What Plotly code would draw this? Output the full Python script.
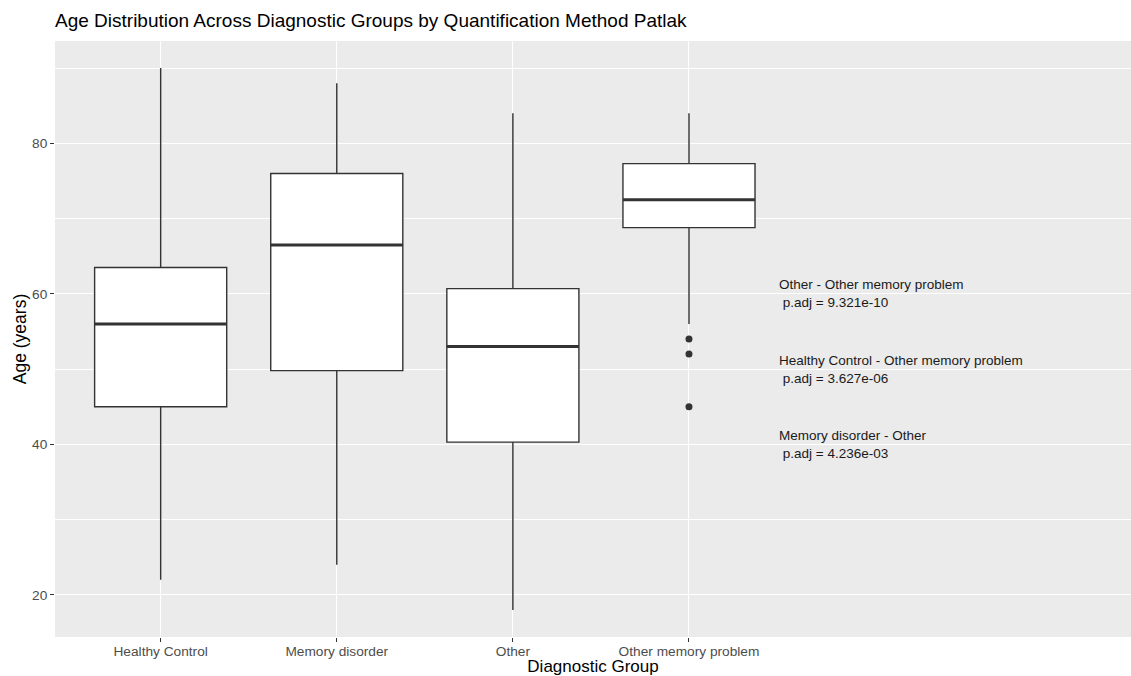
import plotly.graph_objects as go

# ---- data ----
groups = ["Healthy Control", "Memory disorder", "Other", "Other memory problem"]
lower_whisker = [22, 24, 18, 56]
q1 = [45.0, 49.8, 40.3, 68.8]
median = [56.0, 66.5, 53.0, 72.5]
q3 = [63.5, 76.0, 60.7, 77.3]
upper_whisker = [90, 88, 84, 84]
outlier_group = ["Other memory problem", "Other memory problem", "Other memory problem"]
outlier_age = [54, 52, 45]

ann_labels = ["Other - Other memory problem", "Healthy Control - Other memory problem", "Memory disorder - Other"]
ann_padj = ["9.321e-10", "3.627e-06", "4.236e-03"]
ann_y = [60, 50, 40]
ann_x = 3.5

BOX_W = 0.75
LINE = "#333333"
FONT = "Liberation Sans, Arial, sans-serif"

fig = go.Figure()
fig.add_trace(go.Box(
    x=groups, q1=q1, median=median, q3=q3,
    lowerfence=lower_whisker, upperfence=upper_whisker,
    fillcolor="white", line=dict(color=LINE, width=1.4),
    whiskerwidth=0, width=BOX_W, boxpoints=False, showlegend=False,
    hoverinfo="y",
))
fig.add_trace(go.Scatter(
    x=outlier_group, y=outlier_age, mode="markers",
    marker=dict(color=LINE, size=7), showlegend=False,
))

# thicker median lines like ggplot
for i, m in enumerate(median):
    fig.add_shape(type="line", xref="x", yref="y",
                  x0=i - BOX_W / 2, x1=i + BOX_W / 2, y0=m, y1=m,
                  line=dict(color=LINE, width=3))

for lab, p, y in zip(ann_labels, ann_padj, ann_y):
    fig.add_annotation(x=ann_x, y=y, xref="x", yref="y",
                       text=f"{lab}<br> p.adj = {p}", showarrow=False,
                       xanchor="left", yanchor="middle", align="left",
                       font=dict(family=FONT, size=13.5, color="#1a1a1a"))

fig.update_layout(
    width=1131, height=676,
    margin=dict(l=55, r=0, t=41, b=39),
    paper_bgcolor="white", plot_bgcolor="#EBEBEB",
    font=dict(family=FONT),
    title=dict(text="Age Distribution Across Diagnostic Groups by Quantification Method Patlak",
               x=55 / 1131, xanchor="left", y=1 - 20 / 676, yanchor="middle",
               font=dict(family=FONT, size=19, color="black")),
    showlegend=False,
)
fig.update_xaxes(
    type="category", categoryorder="array", categoryarray=groups,
    range=[-0.6, 5.51], showgrid=True, gridcolor="white", gridwidth=1.1,
    zeroline=False, showline=False,
    ticks="outside", ticklen=4, tickcolor=LINE, tickwidth=1.1,
    ticklabelstandoff=-2,
    tickfont=dict(family=FONT, size=13.7, color="#4D4D4D"),
    title=dict(text="Diagnostic Group", standoff=0,
               font=dict(family=FONT, size=17, color="black")),
)
fig.update_yaxes(
    range=[14.4, 93.6], tickvals=[20, 40, 60, 80],
    showgrid=True, gridcolor="white", gridwidth=1.1,
    minor=dict(tickvals=[30, 50, 70, 90], showgrid=True, gridcolor="white", gridwidth=0.55, ticks=""),
    zeroline=False, showline=False,
    ticks="outside", ticklen=4, tickcolor=LINE, tickwidth=1.1,
    tickfont=dict(family=FONT, size=13.7, color="#4D4D4D"),
    title=dict(text="Age (years)", standoff=0,
               font=dict(family=FONT, size=17.5, color="black")),
)

fig.write_html("out.html")
